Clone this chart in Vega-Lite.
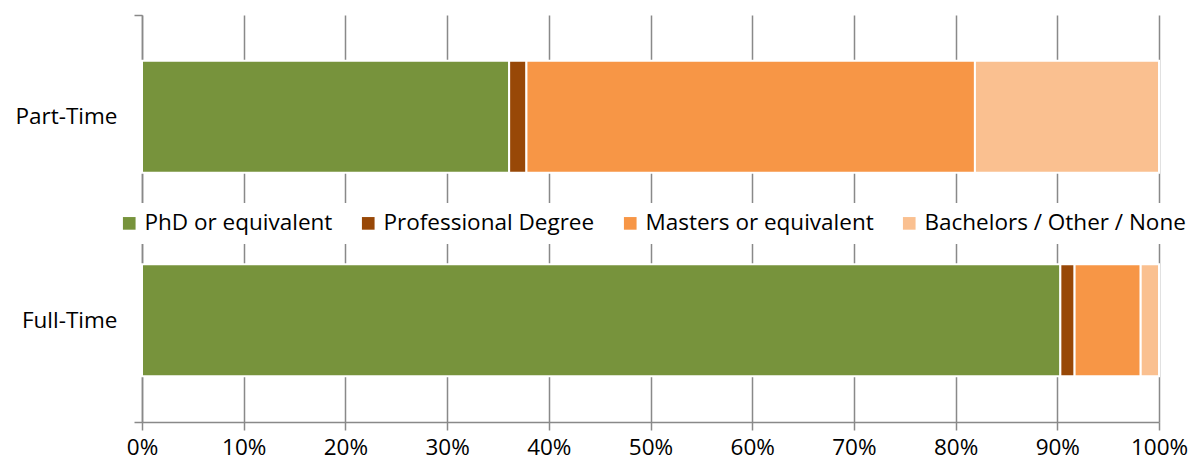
{
  "$schema": "https://vega.github.io/schema/vega-lite/v6.json",
  "width": 1017,
  "height": 407,
  "autosize": {"type": "none"},
  "padding": {"left": 142, "top": 15, "right": 34, "bottom": 44},
  "background": "white",
  "config": {"view": {"stroke": null}, "font": "Open Sans"},
  "data": {
    "values": [
      {"status": "Part-Time", "degree": "PhD or equivalent", "rank": 1, "pct": 36.1},
      {"status": "Part-Time", "degree": "Professional Degree", "rank": 2, "pct": 1.7},
      {"status": "Part-Time", "degree": "Masters or equivalent", "rank": 3, "pct": 44.1},
      {"status": "Part-Time", "degree": "Bachelors / Other / None", "rank": 4, "pct": 18.1},
      {"status": "Full-Time", "degree": "PhD or equivalent", "rank": 1, "pct": 90.3},
      {"status": "Full-Time", "degree": "Professional Degree", "rank": 2, "pct": 1.4},
      {"status": "Full-Time", "degree": "Masters or equivalent", "rank": 3, "pct": 6.5},
      {"status": "Full-Time", "degree": "Bachelors / Other / None", "rank": 4, "pct": 1.8}
    ]
  },
  "mark": {"type": "bar", "height": {"band": 0.55}, "stroke": "white", "strokeWidth": 2},
  "encoding": {
    "y": {
      "field": "status",
      "type": "nominal",
      "sort": ["Part-Time", "Full-Time"],
      "scale": {"paddingInner": 0, "paddingOuter": 0},
      "axis": {
        "title": null,
        "tickBand": "extent",
        "domainColor": "#898989",
        "domainWidth": 1.5,
        "tickColor": "#898989",
        "tickWidth": 1.5,
        "tickSize": 8,
        "labelFontSize": 22.5,
        "labelColor": "black",
        "labelPadding": 17,
        "grid": false
      }
    },
    "x": {
      "field": "pct",
      "type": "quantitative",
      "stack": "normalize",
      "scale": {"domain": [0, 1], "nice": false},
      "axis": {
        "title": null,
        "format": ".0%",
        "values": [0, 0.1, 0.2, 0.3, 0.4, 0.5, 0.6, 0.7, 0.8, 0.9, 1],
        "grid": true,
        "gridColor": "#898989",
        "gridWidth": 1.5,
        "domainColor": "#898989",
        "domainWidth": 1.5,
        "tickColor": "#898989",
        "tickWidth": 1.5,
        "tickSize": 8,
        "labelFontSize": 22.5,
        "labelColor": "black",
        "labelPadding": 6,
        "labelFlush": false,
        "labelOverlap": false
      }
    },
    "order": {"field": "rank", "type": "quantitative"},
    "color": {
      "field": "degree",
      "type": "nominal",
      "scale": {
        "domain": ["PhD or equivalent", "Professional Degree", "Masters or equivalent", "Bachelors / Other / None"],
        "range": ["#77933C", "#984807", "#F79646", "#FAC090"]
      },
      "legend": {
        "title": null,
        "orient": "none",
        "legendX": -33,
        "legendY": 188,
        "direction": "horizontal",
        "fillColor": "white",
        "padding": 9,
        "symbolType": "square",
        "symbolSize": 160,
        "symbolStrokeWidth": 0,
        "symbolOpacity": 1,
        "labelFontSize": 22.5,
        "labelColor": "black",
        "labelOffset": 4,
        "labelLimit": 500,
        "columnPadding": 24
      }
    }
  }
}
